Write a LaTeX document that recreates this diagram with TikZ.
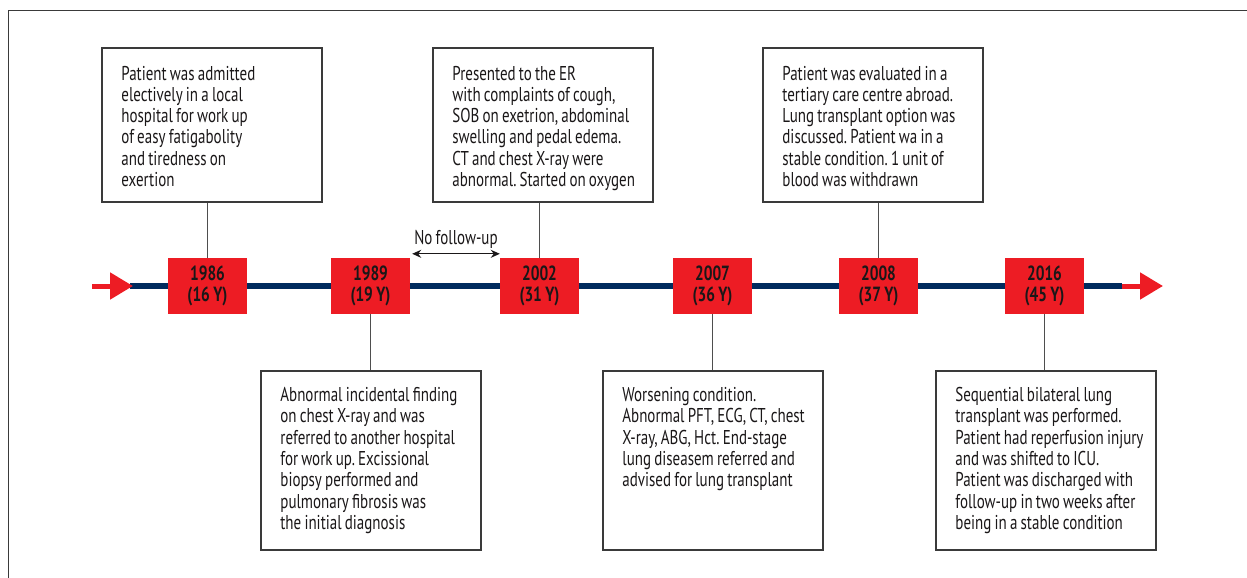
\documentclass[tikz,border=0pt]{standalone}
\usepackage{fontspec}
\setmainfont{PT Sans}[FakeStretch=0.75,WordSpace=0.8]
\frenchspacing
\usetikzlibrary{arrows.meta,positioning}
\definecolor{tlred}{HTML}{ED1C24}
\definecolor{tlnavy}{HTML}{002B5E}
\definecolor{tlink}{HTML}{1A1718}
\definecolor{tlframe}{HTML}{3A3A3A}
\newcommand{\evtext}[2]{\parbox[t][#1][t]{220pt}{\raggedright\leftskip=19.5pt #2}}
\tikzset{
  yearbox/.style={fill=tlred, minimum width=79pt, minimum height=56pt, inner sep=0pt,
    align=center, text=tlink, font=\fontsize{20.5}{20.7}\selectfont\bfseries},
  evbox/.style={draw=tlframe, line width=1.8pt, inner xsep=0pt, anchor=north west,
    text=tlink, font=\fontsize{20}{21.3}\selectfont},
  conn/.style={draw=tlframe!90, line width=1.5pt},
  redarrow/.style={tlred, line width=5pt, -{Triangle[length=23pt,width=26pt]}}
}
\begin{document}
\begin{tikzpicture}[x=1pt,y=-1pt]
 \useasboundingbox (0,0) rectangle (1247,578);
 % Rahmen oben und links:
 \draw[tlframe, line width=1.3pt] (8.5,578) -- (8.5,10.5) -- (1247,10.5);
 % Zeitachse:
 \coordinate (inL) at (92,286);
 \coordinate (tipL) at (133,286);
 \coordinate (outR) at (1122,286);
 \coordinate (tipR) at (1163,286);
 \draw[tlnavy, line width=5.5pt] (130,286) -- (outR);
 \draw[redarrow] (inL) -- (tipL);
 \draw[redarrow] (outR) -- (tipR);
 % Jahreskaesten auf der Achse:
 \foreach \x/\yr/\age in {207.5/1986/16,370.5/1989/19,539.5/2002/31,712.5/2007/36,878.5/2008/37,1044.5/2016/45}
 \node[yearbox] (y\yr) at (\x,286) {\yr\\(\age\,Y)};
 % Kaesten oben:
 \node[evbox, inner ysep=17.5pt] (ev1986) at (101,47.5) {\evtext{118.5pt}{Patient was admitted\\
   electively in a local\\ hospital for work up\\ of easy fatigabolity\\ and tiredness on\\ exertion}};
 \node[evbox, inner ysep=17.5pt] (ev2002) at (432,47.5) {\evtext{118.5pt}{Presented to the ER\\
   with complaints of cough,\\ SOB on exetrion, abdominal\\ swelling and pedal edema.\\
   CT and chest X-ray were\\ abnormal. Started on oxygen}};
 \node[evbox, inner ysep=17.5pt] (ev2008) at (762,47.5) {\evtext{118.5pt}{Patient was evaluated in a\\
   tertiary care centre abroad.\\ Lung transplant option was\\ discussed. Patient wa in a\\
   stable condition. 1 unit of\\ blood was withdrawn}};
 % Kaesten unten:
 \node[evbox, inner ysep=16.5pt] (ev1989) at (260,370) {\evtext{146pt}{Abnormal incidental finding\\
   on chest X-ray and was\\ referred to another hospital\\ for work up. Excissional\\
   biopsy performed and\\ pulmonary fibrosis was\\ the initial diagnosis}};
 \node[evbox, inner ysep=16.5pt] (ev2007) at (602,370) {\evtext{146pt}{Worsening condition.\\
   Abnormal PFT, ECG, CT, chest\\ X-ray, ABG, Hct. End-stage\\ lung diseasem referred and\\
   advised for lung transplant}};
 \node[evbox, inner ysep=16.5pt] (ev2016) at (935,370) {\evtext{146pt}{Sequential bilateral lung\\
   transplant was performed.\\ Patient had reperfusion injury\\ and was shifted to ICU.\\
   Patient was discharged with\\ follow-up in two weeks after\\ being in a stable condition}};
 % Verbindungsstriche:
 \foreach \yr in {1986,2002,2008}
 \draw[conn] (y\yr.north) -- (y\yr.north |- ev\yr.south);
 \foreach \yr in {1989,2007,2016}
 \draw[conn] (y\yr.south) -- (y\yr.south |- ev\yr.north);
 % Luecke ohne Nachsorge:
 \draw[line width=1.2pt, tlink, {Stealth[length=9pt,width=8pt]}-{Stealth[length=9pt,width=8pt]}]
   ([xshift=2pt,yshift=4pt]y1989.north east) -- node[above=1pt, font=\fontsize{20}{21.3}\selectfont] {No follow-up}
   ([yshift=4pt]y2002.north west);
\end{tikzpicture}
\end{document}
